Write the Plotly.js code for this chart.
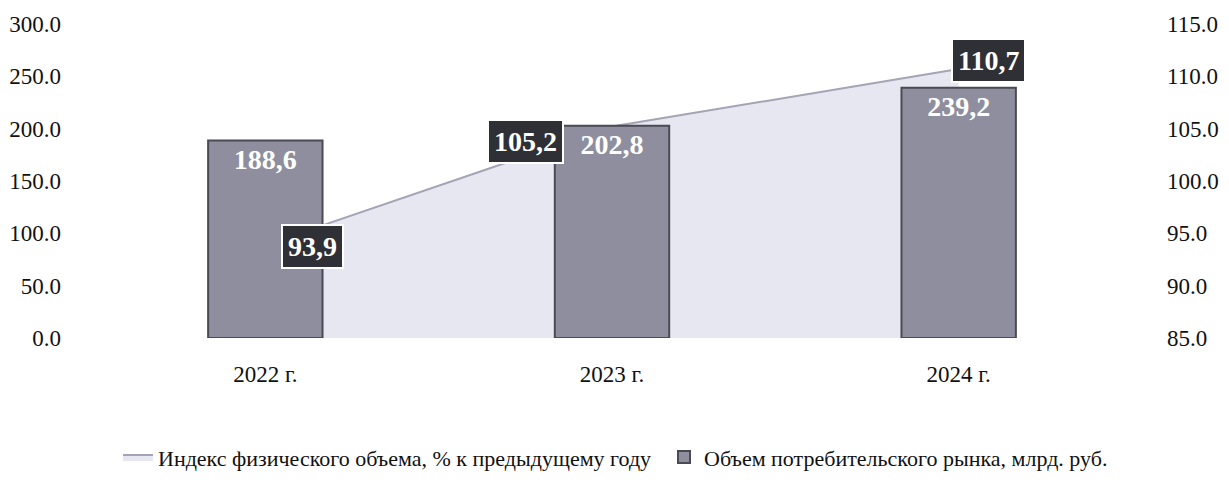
<!DOCTYPE html>
<html><head><meta charset="utf-8">
<script src="https://cdn.plot.ly/plotly-3.0.1.min.js"></script>
<style>html,body{margin:0;padding:0;background:#fff}#c{width:1229px;height:490px}</style>
</head><body><div id="c"></div>
<script>
const years = ['2022 г.', '2023 г.', '2024 г.'];
const marketVolume = [188.6, 202.8, 239.2];
const volumeIndex = [93.9, 105.2, 110.7];
const nameIndex = 'Индекс физического объема, % к предыдущему году';
const nameVolume = 'Объем потребительского рынка, млрд. руб.';
const fmt = v => v.toFixed(1).replace('.', ',');

const font = {family: 'Liberation Serif, Times New Roman, serif', color: '#111'};

const traces = [
  {
    type: 'scatter', x: years, y: volumeIndex, name: nameIndex,
    mode: 'lines', fill: 'tozeroy', fillcolor: 'rgba(228,228,240,0.9)',
    line: {color: '#a4a4b6', width: 2}, yaxis: 'y', hoverinfo: 'skip',
    legend: 'legend'
  },
  {
    type: 'bar', x: years, y: marketVolume, name: nameVolume, yaxis: 'y2',
    width: 0.33, legend: 'legend2',
    marker: {color: '#8e8e9e', line: {color: '#4a4a55', width: 2}},
    text: marketVolume.map(fmt), textposition: 'inside', insidetextanchor: 'end',
    textfont: {family: font.family, size: 28, color: '#ffffff', weight: 'bold'},
    cliponaxis: false
  }
];

const shifts = [[47, -2], [-87, -15], [30, 9]];
const annotations = years.map((c, i) => ({
  x: c, y: volumeIndex[i], xref: 'x', yref: 'y',
  text: '<b>' + fmt(volumeIndex[i]) + '</b>', showarrow: false,
  xshift: shifts[i][0], yshift: shifts[i][1],
  font: {family: font.family, size: 28, color: '#ffffff'},
  bgcolor: '#2f2f36', bordercolor: '#ffffff', borderwidth: 2, borderpad: 5
}));

const legFont = Object.assign({size: 22}, font);

const layout = {
  width: 1229, height: 490,
  margin: {l: 92, r: 97, t: 24, b: 140},
  paper_bgcolor: '#ffffff', plot_bgcolor: '#ffffff',
  font: Object.assign({size: 22}, font),
  showlegend: true,
  legend: {
    orientation: 'h', x: 0.025, y: -0.38, xanchor: 'left', yanchor: 'middle',
    font: legFont, itemwidth: 30, bgcolor: 'rgba(0,0,0,0)'
  },
  legend2: {
    orientation: 'h', x: 0.55, y: -0.38, xanchor: 'left', yanchor: 'middle',
    font: legFont, itemwidth: 30, bgcolor: 'rgba(0,0,0,0)'
  },
  xaxis: {
    type: 'category', showgrid: false, zeroline: false, showline: false,
    ticks: '', tickfont: Object.assign({size: 23}, font), ticklabelstandoff: 20
  },
  yaxis: {
    side: 'right', range: [85, 115], dtick: 5, tickformat: '.1f',
    showgrid: false, zeroline: false, showline: false, ticks: '',
    tickfont: Object.assign({size: 23}, font), ticklabelstandoff: 34
  },
  yaxis2: {
    side: 'left', overlaying: 'y', range: [0, 300], dtick: 50, tickformat: '.1f',
    showgrid: false, zeroline: false, showline: false, ticks: '',
    tickfont: Object.assign({size: 23}, font), ticklabelstandoff: 30
  },
  annotations: annotations
};

Plotly.newPlot('c', traces, layout, {displayModeBar: false, staticPlot: true});
</script></body></html>
